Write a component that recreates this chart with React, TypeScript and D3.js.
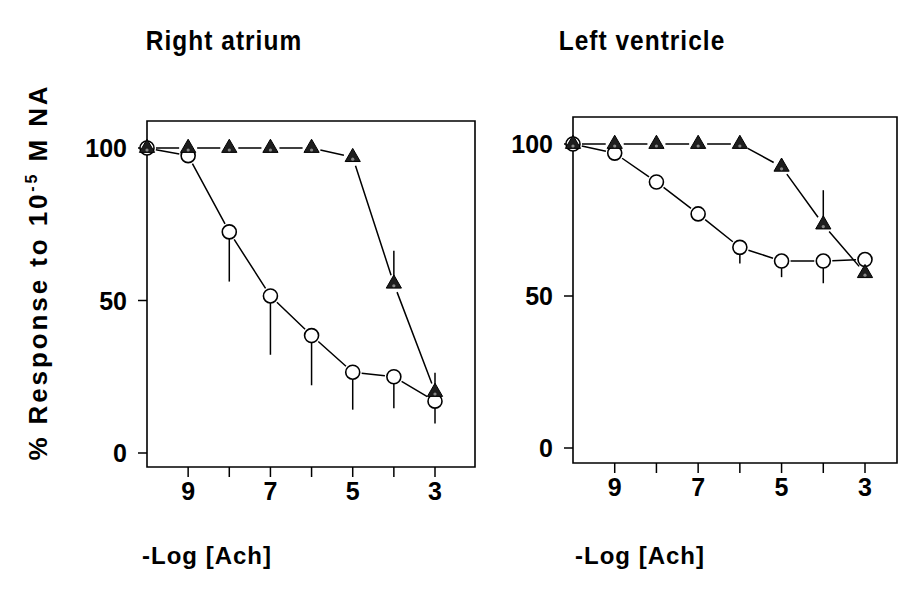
import React from "react";
import * as d3 from "d3";

// -log [Ach] doses, 10 is the baseline point on the y axis
const doses = [10, 9, 8, 7, 6, 5, 4, 3];
const tickDoses = [9, 8, 7, 6, 5, 4, 3];
const labelDoses = [9, 7, 5, 3];
const yTicks = [0, 50, 100];

// Right atrium
const raCircle = [100, 97.5, 72.5, 51.5, 38.5, 26.5, 25, 17];
const raCircleErr = [0, 0, 14, 17, 14, 10, 8, 5];
const raTriangle = [100, 100, 100, 100, 100, 97, 55.5, 20];
const raTriangleErr = [0, 0, 0, 0, 0, 0, 8.5, 4];

// Left ventricle
const lvCircle = [100, 97, 87.5, 77, 66, 61.5, 61.5, 62];
const lvCircleErr = [0, 0, 0, 0, 3, 3, 5, 3];
const lvTriangle = [100, 100, 100, 100, 100, 92.5, 73.5, 57.5];
const lvTriangleErr = [0, 0, 0, 0, 0, 0, 9, 0];

const FONT = "'Liberation Sans', Arial, sans-serif";

type PanelProps = {
  title: string;
  titleX: number;
  labelX: number;
  left: number;
  right: number;
  top: number;
  bottom: number;
  y100: number;
  y0: number;
  x3: number;
  circle: number[];
  circleErr: number[];
  tri: number[];
  triErr: number[];
};

// connecting lines stop short of the markers, as in the original plot
function segs(pts: [number, number][], gap: number) {
  const out: string[] = [];
  for (let i = 0; i < pts.length - 1; i++) {
    const [x1, y1] = pts[i];
    const [x2, y2] = pts[i + 1];
    const len = Math.hypot(x2 - x1, y2 - y1);
    if (len <= gap * 2) continue;
    const ux = (x2 - x1) / len, uy = (y2 - y1) / len;
    out.push(`M${x1 + ux * gap},${y1 + uy * gap}L${x2 - ux * gap},${y2 - uy * gap}`);
  }
  return out.join("");
}

function Panel(p: PanelProps) {
  const x = d3.scaleLinear().domain([10, 3]).range([p.left, p.x3]);
  const y = d3.scaleLinear().domain([0, 100]).range([p.y0, p.y100]);
  const cPts = doses.map((d, i) => [x(d), y(p.circle[i])] as [number, number]);
  const tPts = doses.map((d, i) => [x(d), y(p.tri[i])] as [number, number]);
  const tri = d3.symbol().type(d3.symbolTriangle).size(100);
  return (
    <g>
      <text x={p.titleX} y={50} textAnchor="middle" fontFamily={FONT} fontWeight="bold"
        fontSize={26} letterSpacing={1.1} transform={`translate(${p.titleX},50) scale(0.94,1.08) translate(${-p.titleX},-50)`}>{p.title}</text>
      <path d={`M${p.left},${p.bottom}V${p.top}H${p.right}V${p.bottom}Z`} fill="none" stroke="#000" strokeWidth={1.6} />
      {yTicks.map((t) => (
        <g key={t}>
          <line x1={p.left - 9} x2={p.left} y1={y(t)} y2={y(t)} stroke="#000" strokeWidth={1.5} />
          <text x={p.left - 20} y={y(t) + 9} textAnchor="end" fontFamily={FONT} fontWeight="bold" fontSize={25}>{t}</text>
        </g>
      ))}
      {tickDoses.map((t) => (
        <line key={t} x1={x(t)} x2={x(t)} y1={p.bottom} y2={p.bottom + 10} stroke="#000" strokeWidth={1.5} />
      ))}
      {labelDoses.map((t) => (
        <text key={t} x={x(t)} y={p.bottom + 33} textAnchor="middle" fontFamily={FONT} fontWeight="bold" fontSize={25}>{t}</text>
      ))}
      <text x={p.labelX} y={564} textAnchor="middle" fontFamily={FONT} fontWeight="bold" fontSize={24} letterSpacing={1}>-Log [Ach]</text>
      <path d={segs(cPts, 9)} stroke="#000" strokeWidth={1.5} fill="none" />
      <path d={segs(tPts, 9)} stroke="#000" strokeWidth={1.5} fill="none" />
      {doses.map((d, i) => p.circleErr[i] > 0 && (
        <line key={"ce" + d} x1={x(d)} x2={x(d)} y1={y(p.circle[i]) + 7} y2={y(p.circle[i] - p.circleErr[i]) + 7}
          stroke="#000" strokeWidth={1.5} />
      ))}
      {doses.map((d, i) => p.triErr[i] > 0 && (
        <line key={"te" + d} x1={x(d)} x2={x(d)} y1={y(p.tri[i]) - 7} y2={y(p.tri[i] + p.triErr[i]) - 7}
          stroke="#000" strokeWidth={1.5} />
      ))}
      {cPts.map(([px, py], i) => (
        <circle key={"c" + i} cx={px} cy={py} r={7} fill="#fff" stroke="#000" strokeWidth={1.6} />
      ))}
      {tPts.map(([px, py], i) => (
        <g key={"t" + i} transform={`translate(${px},${py})`}>
          <path d={tri() as string} fill="#1e1e1e" stroke="#000" strokeWidth={1} />
          <circle cx={0} cy={2} r={1.6} fill="#888" />
        </g>
      ))}
    </g>
  );
}

export default function App() {
  return (
    <svg width={910} height={597} style={{ display: "block", position: "absolute", left: 0, top: 0, background: "#fff" }}>
      <text transform="translate(47,272) rotate(-90)" textAnchor="middle" fontFamily={FONT} fontWeight="bold"
        fontSize={26} letterSpacing={2.9}>
        % Response to 10<tspan dy={-10} fontSize={16}>-5</tspan><tspan dy={10}> M NA</tspan>
      </text>
      <Panel title="Right atrium" titleX={224} labelX={207} left={147} right={475} top={121} bottom={467}
        y100={148} y0={453} x3={435}
        circle={raCircle} circleErr={raCircleErr} tri={raTriangle} triErr={raTriangleErr} />
      <Panel title="Left ventricle" titleX={642} labelX={640} left={573} right={897} top={117} bottom={463}
        y100={144} y0={448} x3={865}
        circle={lvCircle} circleErr={lvCircleErr} tri={lvTriangle} triErr={lvTriangleErr} />
    </svg>
  );
}
